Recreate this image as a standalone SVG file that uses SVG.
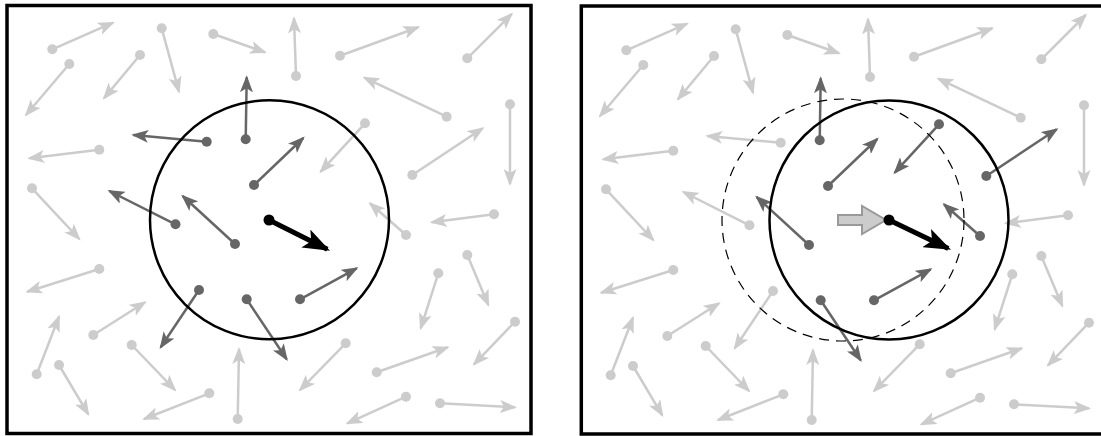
<svg xmlns="http://www.w3.org/2000/svg" width="1101" height="436" viewBox="0 0 1101 436">
<style>
.frame{fill:#fff;stroke:#000;stroke-width:3.5}
.lt{stroke:#cccccc;stroke-width:2.5;fill:none;marker-end:url(#hl)}
.dk{stroke:#666666;stroke-width:2.5;fill:none;marker-end:url(#hd)}
.ltd{fill:#cccccc}
.dkd{fill:#666666}
.bk{stroke:#000;stroke-width:5;fill:none;marker-end:url(#hb)}
.ring{fill:none;stroke:#000;stroke-width:2.5}
.dash{fill:none;stroke:#000;stroke-width:1.2;stroke-dasharray:10 7}
</style>
<defs>
<marker id="hl" markerUnits="userSpaceOnUse" markerWidth="17" markerHeight="13" viewBox="0 0 17 13" refX="15" refY="6.5" orient="auto"><path d="M0,0 L17,6.5 L0,13 L4,6.5 Z" fill="#cccccc"/></marker>
<marker id="hd" markerUnits="userSpaceOnUse" markerWidth="17" markerHeight="13" viewBox="0 0 17 13" refX="15" refY="6.5" orient="auto"><path d="M0,0 L17,6.5 L0,13 L4,6.5 Z" fill="#666666"/></marker>
<marker id="hb" markerUnits="userSpaceOnUse" markerWidth="27" markerHeight="20" viewBox="0 0 27 20" refX="24" refY="10" orient="auto"><path d="M0,0 L27,10 L0,20 L6,10 Z" fill="#000"/></marker>
</defs>

<g id="panel-left">
<rect class="frame" x="7" y="5.5" width="524" height="428"/>
<g id="left-light-arrows">
<path class="lt" d="M52.3,49.3 L113,22.7"/>
<path class="lt" d="M69.3,64 L26,115"/>
<path class="lt" d="M140,55 L104,98.3"/>
<path class="lt" d="M161.7,28.3 L179,91.7"/>
<path class="lt" d="M213.3,34 L265,52.3"/>
<path class="lt" d="M99.3,149.7 L29.3,158.3"/>
<path class="lt" d="M32,188.3 L79.3,239"/>
<path class="lt" d="M296,76 L294,18.3"/>
<path class="lt" d="M340,55.7 L418.3,27.3"/>
<path class="lt" d="M467.3,58.3 L511.7,14"/>
<path class="lt" d="M446.7,116.7 L364.3,77.7"/>
<path class="lt" d="M510,104.3 L510,184"/>
<path class="lt" d="M365,123.3 L320.7,171.7"/>
<path class="lt" d="M412.3,175 L482.7,128.3"/>
<path class="lt" d="M406,235 L370,203.3"/>
<path class="lt" d="M494,214.3 L431.7,222.3"/>
<path class="lt" d="M438.3,273.3 L420.7,328.3"/>
<path class="lt" d="M467.3,255 L488.3,305"/>
<path class="lt" d="M515,321.7 L474,364.3"/>
<path class="lt" d="M345.7,343.3 L300,390"/>
<path class="lt" d="M376.7,372.3 L447.7,347.3"/>
<path class="lt" d="M406,396.7 L347.3,423.3"/>
<path class="lt" d="M440,403.3 L515,407.3"/>
<path class="lt" d="M99.3,269 L27.3,291.7"/>
<path class="lt" d="M93.3,335 L145,302.3"/>
<path class="lt" d="M36.7,374.3 L59,316.7"/>
<path class="lt" d="M59,365 L88.3,414.3"/>
<path class="lt" d="M131.7,345 L175,390"/>
<path class="lt" d="M209.3,393.3 L144,419"/>
<path class="lt" d="M237.7,419 L239,349"/>
</g>
<g id="left-light-dots" class="ltd">
<circle cx="52.3" cy="49.3" r="5"/><circle cx="69.3" cy="64" r="5"/><circle cx="140" cy="55" r="5"/>
<circle cx="161.7" cy="28.3" r="5"/><circle cx="213.3" cy="34" r="5"/><circle cx="99.3" cy="149.7" r="5"/>
<circle cx="32" cy="188.3" r="5"/><circle cx="296" cy="76" r="5"/><circle cx="340" cy="55.7" r="5"/>
<circle cx="467.3" cy="58.3" r="5"/><circle cx="446.7" cy="116.7" r="5"/><circle cx="510" cy="104.3" r="5"/>
<circle cx="365" cy="123.3" r="5"/><circle cx="412.3" cy="175" r="5"/><circle cx="406" cy="235" r="5"/>
<circle cx="494" cy="214.3" r="5"/><circle cx="438.3" cy="273.3" r="5"/><circle cx="467.3" cy="255" r="5"/>
<circle cx="515" cy="321.7" r="5"/><circle cx="345.7" cy="343.3" r="5"/><circle cx="376.7" cy="372.3" r="5"/>
<circle cx="406" cy="396.7" r="5"/><circle cx="440" cy="403.3" r="5"/><circle cx="99.3" cy="269" r="5"/>
<circle cx="93.3" cy="335" r="5"/><circle cx="36.7" cy="374.3" r="5"/><circle cx="59" cy="365" r="5"/>
<circle cx="131.7" cy="345" r="5"/><circle cx="209.3" cy="393.3" r="5"/><circle cx="237.7" cy="419" r="5"/>
</g>
<g id="left-dark-arrows">
<path class="dk" d="M245.7,139.3 L246.7,77.3"/>
<path class="dk" d="M206.7,141.7 L133.3,135"/>
<path class="dk" d="M254,185 L303.3,138"/>
<path class="dk" d="M175.5,224.3 L109.3,191"/>
<path class="dk" d="M235,244 L182.7,196"/>
<path class="dk" d="M199,290 L160.7,347.3"/>
<path class="dk" d="M246.7,299.3 L286.7,359.3"/>
<path class="dk" d="M300,299.3 L356.7,268.3"/>
</g>
<g id="left-dark-dots" class="dkd">
<circle cx="245.7" cy="139.3" r="5"/><circle cx="206.7" cy="141.7" r="5"/><circle cx="254" cy="185" r="5"/>
<circle cx="175.5" cy="224.3" r="5"/><circle cx="235" cy="244" r="5"/><circle cx="199" cy="290" r="5"/>
<circle cx="246.7" cy="299.3" r="5"/><circle cx="300" cy="299.3" r="5"/>
</g>
<circle id="left-ring" class="ring" cx="269.5" cy="219.8" r="119.5"/>
<g id="left-focus">
<path class="bk" d="M269,220 L327.3,249.3"/>
<circle cx="269" cy="220" r="5.5" fill="#000"/>
</g>
</g>

<g id="panel-right">
<rect class="frame" x="581.3" y="6" width="524" height="428"/>
<g transform="translate(574,1)">
<g id="right-light-arrows">
<path class="lt" d="M52.3,49.3 L113,22.7"/>
<path class="lt" d="M69.3,64 L26,115"/>
<path class="lt" d="M140,55 L104,98.3"/>
<path class="lt" d="M161.7,28.3 L179,91.7"/>
<path class="lt" d="M213.3,34 L265,52.3"/>
<path class="lt" d="M99.3,149.7 L29.3,158.3"/>
<path class="lt" d="M32,188.3 L79.3,239"/>
<path class="lt" d="M296,76 L294,18.3"/>
<path class="lt" d="M340,55.7 L418.3,27.3"/>
<path class="lt" d="M467.3,58.3 L511.7,14"/>
<path class="lt" d="M446.7,116.7 L364.3,77.7"/>
<path class="lt" d="M510,104.3 L510,184"/>
<path class="lt" d="M494,214.3 L431.7,222.3"/>
<path class="lt" d="M438.3,273.3 L420.7,328.3"/>
<path class="lt" d="M467.3,255 L488.3,305"/>
<path class="lt" d="M515,321.7 L474,364.3"/>
<path class="lt" d="M345.7,343.3 L300,390"/>
<path class="lt" d="M376.7,372.3 L447.7,347.3"/>
<path class="lt" d="M406,396.7 L347.3,423.3"/>
<path class="lt" d="M440,403.3 L515,407.3"/>
<path class="lt" d="M99.3,269 L27.3,291.7"/>
<path class="lt" d="M93.3,335 L145,302.3"/>
<path class="lt" d="M36.7,374.3 L59,316.7"/>
<path class="lt" d="M59,365 L88.3,414.3"/>
<path class="lt" d="M131.7,345 L175,390"/>
<path class="lt" d="M209.3,393.3 L144,419"/>
<path class="lt" d="M237.7,419 L239,349"/>
<path class="lt" d="M206.7,141.7 L133.3,135"/>
<path class="lt" d="M175.5,224.3 L109.3,191"/>
<path class="lt" d="M199,290 L160.7,347.3"/>
</g>
<g id="right-light-dots" class="ltd">
<circle cx="52.3" cy="49.3" r="5"/><circle cx="69.3" cy="64" r="5"/><circle cx="140" cy="55" r="5"/>
<circle cx="161.7" cy="28.3" r="5"/><circle cx="213.3" cy="34" r="5"/><circle cx="99.3" cy="149.7" r="5"/>
<circle cx="32" cy="188.3" r="5"/><circle cx="296" cy="76" r="5"/><circle cx="340" cy="55.7" r="5"/>
<circle cx="467.3" cy="58.3" r="5"/><circle cx="446.7" cy="116.7" r="5"/><circle cx="510" cy="104.3" r="5"/>
<circle cx="494" cy="214.3" r="5"/><circle cx="438.3" cy="273.3" r="5"/><circle cx="467.3" cy="255" r="5"/>
<circle cx="515" cy="321.7" r="5"/><circle cx="345.7" cy="343.3" r="5"/><circle cx="376.7" cy="372.3" r="5"/>
<circle cx="406" cy="396.7" r="5"/><circle cx="440" cy="403.3" r="5"/><circle cx="99.3" cy="269" r="5"/>
<circle cx="93.3" cy="335" r="5"/><circle cx="36.7" cy="374.3" r="5"/><circle cx="59" cy="365" r="5"/>
<circle cx="131.7" cy="345" r="5"/><circle cx="209.3" cy="393.3" r="5"/><circle cx="237.7" cy="419" r="5"/>
<circle cx="206.7" cy="141.7" r="5"/><circle cx="175.5" cy="224.3" r="5"/><circle cx="199" cy="290" r="5"/>
</g>
<g id="right-dark-arrows">
<path class="dk" d="M245.7,139.3 L246.7,77.3"/>
<path class="dk" d="M254,185 L303.3,138"/>
<path class="dk" d="M235,244 L182.7,196"/>
<path class="dk" d="M246.7,299.3 L286.7,359.3"/>
<path class="dk" d="M300,299.3 L356.7,268.3"/>
<path class="dk" d="M365,123.3 L320.7,171.7"/>
<path class="dk" d="M412.3,175 L482.7,128.3"/>
<path class="dk" d="M406,235 L370,203.3"/>
</g>
<g id="right-dark-dots" class="dkd">
<circle cx="245.7" cy="139.3" r="5"/><circle cx="254" cy="185" r="5"/><circle cx="235" cy="244" r="5"/>
<circle cx="246.7" cy="299.3" r="5"/><circle cx="300" cy="299.3" r="5"/><circle cx="365" cy="123.3" r="5"/>
<circle cx="412.3" cy="175" r="5"/><circle cx="406" cy="235" r="5"/>
</g>
</g>
<circle id="right-old-ring" class="dash" cx="843" cy="220" r="121"/>
<circle id="right-ring" class="ring" cx="889" cy="220" r="119.5"/>
<polygon id="right-shift" points="838,215 862,215 862,206 886,220 862,234 862,225 838,225" fill="#cccccc" stroke="#999999" stroke-width="2"/>
<g id="right-focus">
<path class="bk" d="M889,220 L948.3,248.5"/>
<circle cx="889" cy="220" r="5.5" fill="#000"/>
</g>
</g>
</svg>
